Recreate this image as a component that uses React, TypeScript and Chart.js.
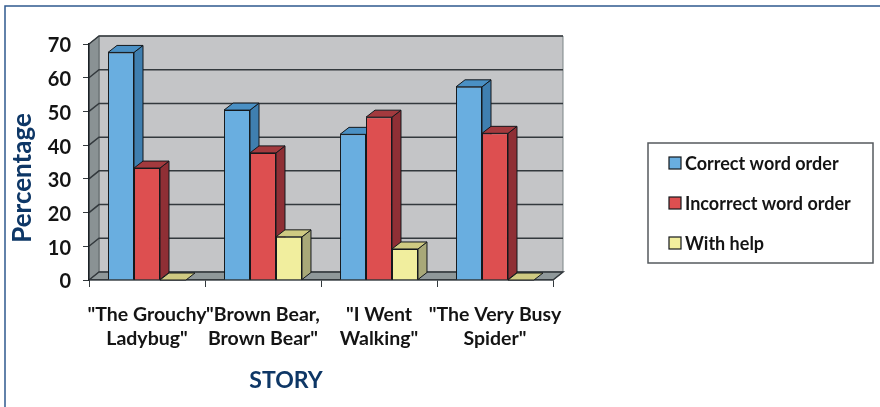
import React, { useEffect, useRef } from "react";
import { Chart, registerables } from "chart.js";

Chart.register(...registerables);

const categories: string[][] = [
  ['"The Grouchy', 'Ladybug"'],
  ['"Brown Bear,', 'Brown Bear"'],
  ['"I Went', 'Walking"'],
  ['"The Very Busy', 'Spider"'],
];
const correctOrder = [67.5, 50.4, 43.2, 57.3];
const incorrectOrder = [33.2, 37.7, 48.3, 43.5];
const withHelp = [0, 12.8, 9.2, 0];

const yTicks = [0, 10, 20, 30, 40, 50, 60, 70];
const FONT = "Lato, Carlito, 'Open Sans', sans-serif";
const DX = 9;
const DY = 7;
const WALL_DX = 10;
const WALL_DY = 8;
const DARK = "#14181c";

const faceColors = [
  { side: "#3f7fb0", top: "#4a90c4" },
  { side: "#8f2f35", top: "#a33a3e" },
  { side: "#a8a878", top: "#cfca82" },
];

function poly(ctx: CanvasRenderingContext2D, pts: number[][], fill: string, stroke?: string, lw = 1) {
  ctx.beginPath();
  pts.forEach((p, i) => (i ? ctx.lineTo(p[0], p[1]) : ctx.moveTo(p[0], p[1])));
  ctx.closePath();
  ctx.fillStyle = fill;
  ctx.fill();
  if (stroke) {
    ctx.strokeStyle = stroke;
    ctx.lineWidth = lw;
    ctx.stroke();
  }
}

const scenePlugin = {
  id: "scene",
  beforeDraw(chart: any) {
    const { ctx, chartArea: a, scales } = chart;
    const { left: l, right: r, top: t, bottom: b } = a;
    ctx.save();
    // outer frame
    ctx.strokeStyle = "#2f5a8f";
    ctx.lineWidth = 1.5;
    ctx.beginPath();
    ctx.moveTo(5, 407);
    ctx.lineTo(5, 6);
    ctx.lineTo(880, 6);
    ctx.stroke();
    // walls and floor
    poly(ctx, [[l + WALL_DX, t - WALL_DY], [r + WALL_DX, t - WALL_DY], [r + WALL_DX, b - WALL_DY], [l + WALL_DX, b - WALL_DY]], "#c4c5c7", "#7d8587", 1);
    poly(ctx, [[l, t], [l + WALL_DX, t - WALL_DY], [l + WALL_DX, b - WALL_DY], [l, b]], "#8a9294", "#5f6668", 1);
    poly(ctx, [[l, b], [l + WALL_DX, b - WALL_DY], [r + WALL_DX, b - WALL_DY], [r, b]], "#8f989a", "#5f6668", 1);
    // grid lines on the walls
    ctx.strokeStyle = "#33393d";
    ctx.lineWidth = 1.5;
    for (const tick of scales.y.ticks) {
      const y = scales.y.getPixelForValue(tick.value);
      ctx.beginPath();
      ctx.moveTo(l, y);
      ctx.lineTo(l + WALL_DX, y - WALL_DY);
      ctx.lineTo(r + WALL_DX, y - WALL_DY);
      if (tick.value === 0) ctx.lineTo(r, y);
      ctx.stroke();
    }
    ctx.restore();
  },
  beforeDatasetsDraw(chart: any) {
    const { ctx } = chart;
    ctx.save();
    chart.data.datasets.forEach((_: any, di: number) => {
      const c = faceColors[di];
      chart.getDatasetMeta(di).data.forEach((bar: any) => {
        const x0 = bar.x - bar.width / 2;
        const x1 = bar.x + bar.width / 2;
        const top = bar.y;
        const bot = bar.base;
        if (bot - top > 0.5) {
          poly(ctx, [[x1, top], [x1 + DX, top - DY], [x1 + DX, bot - DY], [x1, bot]], c.side, DARK, 1);
        }
        poly(ctx, [[x0, top], [x0 + DX, top - DY], [x1 + DX, top - DY], [x1, top]], c.top, DARK, 1);
      });
    });
    ctx.restore();
  },
  afterDraw(chart: any) {
    const { ctx } = chart;
    ctx.save();
    // axis titles
    ctx.fillStyle = "#0e3766";
    ctx.textAlign = "center";
    ctx.textBaseline = "middle";
    ctx.font = `bold 23px ${FONT}`;
    ctx.fillText("STORY", 286, 381);
    ctx.translate(23, 178);
    ctx.rotate(-Math.PI / 2);
    ctx.font = `bold 26px ${FONT}`;
    ctx.fillText("Percentage", 0, 0);
    ctx.restore();

    // legend
    ctx.save();
    ctx.strokeStyle = "#555a5e";
    ctx.lineWidth = 1.5;
    ctx.fillStyle = "#ffffff";
    ctx.fillRect(648, 143, 225, 120);
    ctx.strokeRect(648, 143, 225, 120);
    const rows = [163, 203, 243];
    chart.data.datasets.forEach((ds: any, i: number) => {
      ctx.fillStyle = ds.backgroundColor;
      ctx.fillRect(669, rows[i] - 6, 12, 12);
      ctx.strokeStyle = DARK;
      ctx.lineWidth = 1.2;
      ctx.strokeRect(669, rows[i] - 6, 12, 12);
      ctx.fillStyle = "#141414";
      ctx.font = `bold 18px ${FONT}`;
      ctx.textAlign = "left";
      ctx.textBaseline = "middle";
      ctx.fillText(ds.label, 685, rows[i] + 1);
    });
    ctx.restore();
  },
};

export default function App() {
  const ref = useRef<HTMLCanvasElement>(null);
  useEffect(() => {
    const chart = new Chart(ref.current as HTMLCanvasElement, {
      type: "bar",
      data: {
        labels: categories as any,
        datasets: [
          { label: "Correct word order", data: correctOrder, backgroundColor: "#69aee0" },
          { label: "Incorrect word order", data: incorrectOrder, backgroundColor: "#dd4f50" },
          { label: "With help", data: withHelp, backgroundColor: "#f1ee9e" },
        ].map((d) => ({ ...d, borderColor: DARK, borderWidth: 1, barPercentage: 1, categoryPercentage: 0.672 })),
      },
      options: {
        responsive: false,
        animation: false,
        events: [],
        layout: { padding: { left: 0, top: 44, right: 327, bottom: 0 } },
        plugins: { legend: { display: false }, tooltip: { enabled: false }, title: { display: false } },
        scales: {
          x: {
            grid: { display: true, drawOnChartArea: false, drawTicks: true, tickLength: 7, color: "#33393d", offset: true },
            border: { display: true, color: "#33393d", width: 1.5 },
            ticks: {
              color: "#141414",
              font: { family: FONT, size: 19.5, weight: "bold", lineHeight: "24px" },
              padding: 16,
              maxRotation: 0,
              minRotation: 0,
              autoSkip: false,
            },
            afterFit: (s: any) => { s.height = 127; },
          },
          y: {
            min: 0,
            max: 70,
            afterBuildTicks: (s: any) => { s.ticks = yTicks.map((value) => ({ value })); },
            grid: { display: true, drawOnChartArea: false, drawTicks: true, tickLength: 6, color: "#33393d" },
            border: { display: true, color: "#1a1f24", width: 1.5 },
            ticks: {
              color: "#141414",
              font: { family: FONT, size: 20, weight: "bold" },
              padding: 12,
              labelOffset: 2,
            },
            afterFit: (s: any) => { s.width = 89; },
          },
        },
      } as any,
      plugins: [scenePlugin],
    });
    return () => chart.destroy();
  }, []);
  return (
    <div style={{ position: "absolute", left: 0, top: 0, width: 880, height: 407, background: "#fff" }}>
      <canvas ref={ref} width={880} height={407} style={{ display: "block" }} />
    </div>
  );
}
